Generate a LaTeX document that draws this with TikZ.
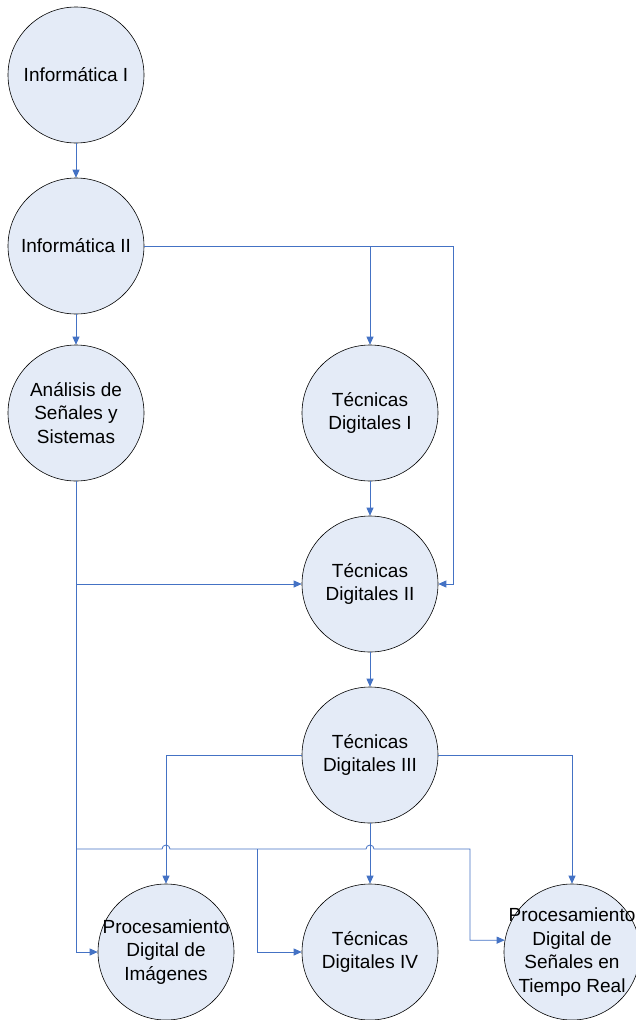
\documentclass[tikz,border=0pt]{standalone}
\usepackage{fontspec}
\setmainfont{Liberation Sans}
\usetikzlibrary{arrows.meta,calc,positioning}
\definecolor{linkblue}{RGB}{68,114,196}
\definecolor{subjfill}{RGB}{228,235,247}
\begin{document}
\begin{tikzpicture}[x=1pt,y=-1pt,
                    every node/.append style={font=\fontsize{19}{23.5}\selectfont, align=center},
                    subject/.style={circle, draw=black, line width=.6pt, fill=subjfill,
                                    minimum size=136pt, inner sep=-30pt},
                    link/.style={draw=linkblue, line width=.8pt},
                    tolink/.style={link, -{Triangle[length=8pt,width=7pt]}}]
    \useasboundingbox (0,0) rectangle (636,1020);
    \node[subject] (info1) at (76, 75)  {Informática I};
    \node[subject] (info2) at (76, 246) {Informática II};
    \node[subject] (signals) at (76, 413) {Análisis de\\Señales y\\Sistemas};
    \node[subject] (digI)  at (370, 413) {Técnicas\\Digitales I};
    \node[subject] (digII) at (370, 584) {Técnicas\\Digitales II};
    \node[subject] (digIII) at (370, 755) {Técnicas\\Digitales III};
    \node[subject] (images) at (166, 952) {Procesamiento\\Digital de\\Imágenes};
    \node[subject] (digIV) at (370, 952) {Técnicas\\Digitales IV};
    \node[subject] (realtime) at (572, 952) {Procesamiento\\Digital de\\Señales en\\Tiempo Real};
    \coordinate (turn) at (453, 246);
    \coordinate (bus)  at (76, 849);
    \coordinate (busend) at (470, 849);
    \begin{scope}
      \draw[tolink] (info1) -- (info2);
      \draw[tolink] (info2) -- (signals);
      \draw[link] (info2.east) -- (turn);
      \draw[tolink] (turn) |- (digII.east);
      \draw[tolink] (digI |- turn) -- (digI);
      \draw[tolink] (digI) -- (digII);
      \draw[tolink] (signals.south) |- (images.west);
      \draw[tolink] (signals |- digII.west) -- (digII.west);
      \draw[tolink] (digII) -- (digIII);
      \draw[tolink] (digIII.west) -| (images.north);
      \draw[tolink] (digIII) -- (digIV);
      \draw[tolink] (digIII.east) -| (realtime.north);
      \draw[tolink] (bus) -- ($(images |- bus)+(-4,0)$) arc[start angle=180, end angle=360, radius=4]
                    -- ($(digIV |- bus)+(-4,0)$) arc[start angle=180, end angle=360, radius=4]
                    -- (busend) |- (realtime.170);
      \draw[tolink] (257,849) |- (digIV.west);
    \end{scope}
\end{tikzpicture}
\end{document}
